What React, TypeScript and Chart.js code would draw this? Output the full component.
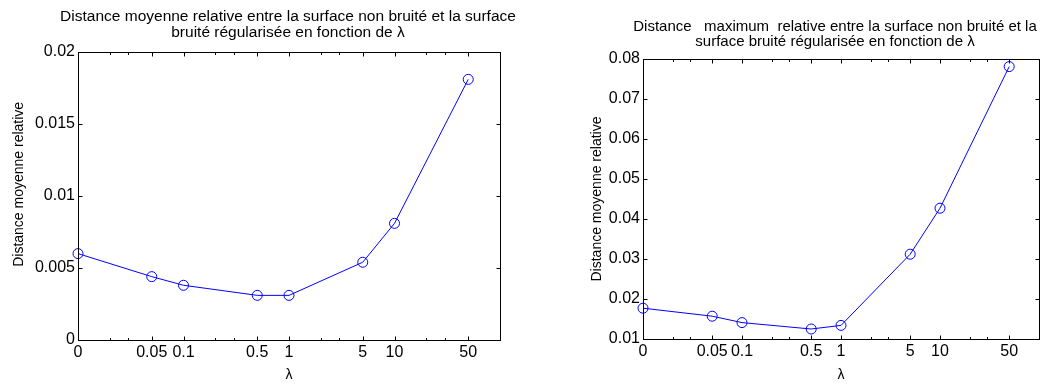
import React, { useEffect, useRef } from "react";
import { Chart, registerables } from "chart.js";

Chart.register(...registerables);

// ---- data ----
const lambdaValues = [0, 0.05, 0.1, 0.5, 1, 5, 10, 50];
const meanRelDistance = [0.006, 0.0044, 0.0038, 0.0031, 0.0031, 0.0054, 0.0081, 0.0181];
const maxRelDistance = [0.0177, 0.0157, 0.0141, 0.0125, 0.0134, 0.0312, 0.0427, 0.0781];

// λ = 0 is shown at the left end of the log axis
const X_ZERO = 0.01;
const X_MAX = 100;

const xTickValues = [0.01, 0.02, 0.03, 0.05, 0.1, 0.2, 0.3, 0.5, 1, 2, 3, 5, 10, 20, 30, 50];
const xTickLabels = ["0", "", "", "0.05", "0.1", "", "", "0.5", "1", "", "", "5", "10", "", "", "50"];

const leftYTicks = [0, 0.005, 0.01, 0.015, 0.02];
const leftYTickLabels = ["0", "0.005", "0.01", "0.015", "0.02"];
const rightYTicks = [0.01, 0.02, 0.03, 0.04, 0.05, 0.06, 0.07, 0.08];
const rightYTickLabels = ["0.01", "0.02", "0.03", "0.04", "0.05", "0.06", "0.07", "0.08"];

const leftTitle = [
  "Distance moyenne relative entre la surface non bruité et la surface",
  "bruité régularisée en fonction de λ",
];
const rightTitle = [
  "Distance   maximum  relative entre la surface non bruité et la",
  "surface bruité régularisée en fonction de λ",
];
const yAxisTitle = "Distance moyenne relative";
const xAxisTitle = "λ";

const FONT = '"Liberation Sans", Arial, Helvetica, sans-serif';
const BLUE = "#0000ff";

const matlabBox = {
  id: "matlabBox",
  afterDraw(chart: any) {
    const { ctx, chartArea: a } = chart;
    const xs = chart.scales.x;
    const ys = chart.scales.y;
    const L = Math.round(a.left) + 0.5;
    const R = Math.round(a.right) + 0.5;
    const T = Math.round(a.top) + 0.5;
    const B = Math.round(a.bottom) + 0.5;
    ctx.save();
    ctx.strokeStyle = "#000";
    ctx.lineWidth = 1;
    ctx.beginPath();
    xs.ticks.forEach((t: any) => {
      const px = Math.round(xs.getPixelForValue(t.value)) + 0.5;
      const len = t.label ? 4 : 2.5;
      ctx.moveTo(px, B);
      ctx.lineTo(px, B - len);
      ctx.moveTo(px, T);
      ctx.lineTo(px, T + len);
    });
    ys.ticks.forEach((t: any) => {
      const py = Math.round(ys.getPixelForValue(t.value)) + 0.5;
      ctx.moveTo(L, py);
      ctx.lineTo(L + 4, py);
      ctx.moveTo(R, py);
      ctx.lineTo(R - 4, py);
    });
    ctx.stroke();
    ctx.strokeRect(L, T, R - L, B - T);
    ctx.restore();
  },
};

type Cfg = {
  values: number[];
  title: string[];
  titleSize: number;
  titleCenterShift: number;
  titleBaselines: number[];
  yTitle: string;
  yTicks: number[];
  yLabels: string[];
  padding: { left: number; right: number; top: number; bottom: number };
  yAxisWidth: number;
  xAxisHeight: number;
};

function makeTitlePlugin(c: Cfg) {
  return {
    id: "centeredTitle",
    afterDraw(chart: any) {
      const { ctx, chartArea: a } = chart;
      const cx = (a.left + a.right) / 2 + c.titleCenterShift;
      ctx.save();
      ctx.fillStyle = "#000";
      ctx.font = `normal ${c.titleSize}px ${FONT}`;
      ctx.textAlign = "center";
      ctx.textBaseline = "alphabetic";
      c.title.forEach((line, i) => ctx.fillText(line, cx, c.titleBaselines[i]));
      ctx.restore();
    },
  };
}

function buildConfig(c: Cfg): any {
  return {
    type: "line",
    data: {
      datasets: [
        {
          data: lambdaValues.map((l, i) => ({ x: l === 0 ? X_ZERO : l, y: c.values[i] })),
          borderColor: BLUE,
          borderWidth: 1,
          pointStyle: "circle",
          pointRadius: 5,
          pointBorderColor: BLUE,
          pointBackgroundColor: "rgba(0,0,0,0)",
          pointBorderWidth: 1,
          tension: 0,
          clip: false,
        },
      ],
    },
    options: {
      animation: false,
      responsive: false,
      devicePixelRatio: 1,
      layout: { padding: c.padding },
      plugins: {
        legend: { display: false },
        tooltip: { enabled: false },
        title: { display: false },
      },
      scales: {
        x: {
          type: "logarithmic",
          min: X_ZERO,
          max: X_MAX,
          afterBuildTicks: (s: any) => {
            s.ticks = xTickValues.map((v) => ({ value: v }));
          },
          afterFit: (s: any) => {
            s.height = c.xAxisHeight;
          },
          ticks: {
            autoSkip: false,
            maxRotation: 0,
            minRotation: 0,
            padding: 3,
            color: "#000",
            font: { family: FONT, size: 16 },
            callback: (_v: any, i: number) => xTickLabels[i],
          },
          grid: { display: false, drawTicks: false },
          border: { display: false },
          title: {
            display: true,
            text: xAxisTitle,
            color: "#000",
            font: { family: FONT, size: 14 },
            padding: { top: 0, bottom: 0 },
          },
        },
        y: {
          type: "linear",
          min: c.yTicks[0],
          max: c.yTicks[c.yTicks.length - 1],
          afterBuildTicks: (s: any) => {
            s.ticks = c.yTicks.map((v) => ({ value: v }));
          },
          afterFit: (s: any) => {
            s.width = c.yAxisWidth;
          },
          ticks: {
            padding: 3,
            color: "#000",
            font: { family: FONT, size: 16 },
            callback: (_v: any, i: number) => c.yLabels[i],
          },
          grid: { display: false, drawTicks: false },
          border: { display: false },
          title: {
            display: true,
            text: c.yTitle,
            color: "#000",
            font: { family: FONT, size: 14 },
            padding: { top: 10.5, bottom: 0 },
          },
        },
      },
    },
    plugins: [matlabBox, makeTitlePlugin(c)],
  };
}

function Panel({ cfg, left, width }: { cfg: Cfg; left: number; width: number }) {
  const ref = useRef<HTMLCanvasElement>(null);
  useEffect(() => {
    const chart = new Chart(ref.current as HTMLCanvasElement, buildConfig(cfg));
    return () => chart.destroy();
  }, []);
  return (
    <canvas
      ref={ref}
      width={width}
      height={384}
      style={{ position: "absolute", left, top: 0, width, height: 384 }}
    />
  );
}

const leftCfg: Cfg = {
  values: meanRelDistance,
  title: leftTitle,
  titleSize: 15.5,
  titleCenterShift: -1,
  titleBaselines: [21, 36.5],
  // leading spaces lift the rotated label slightly, as in the original figure
  yTitle: "      " + yAxisTitle,
  yTicks: leftYTicks,
  yLabels: leftYTickLabels,
  padding: { left: 0, right: 30, top: 52, bottom: 0 },
  yAxisWidth: 78,
  xAxisHeight: 44,
};

const rightCfg: Cfg = {
  values: maxRelDistance,
  title: rightTitle,
  titleSize: 15,
  titleCenterShift: -6,
  titleBaselines: [31, 45.5],
  yTitle: yAxisTitle,
  yTicks: rightYTicks,
  yLabels: rightYTickLabels,
  padding: { left: 48, right: 16, top: 59, bottom: 0 },
  yAxisWidth: 65,
  xAxisHeight: 45,
};

export default function App() {
  return (
    <div style={{ position: "absolute", left: 0, top: 0, width: 1055, height: 384, background: "#fff" }}>
      <Panel cfg={leftCfg} left={0} width={530} />
      <Panel cfg={rightCfg} left={530} width={525} />
    </div>
  );
}
